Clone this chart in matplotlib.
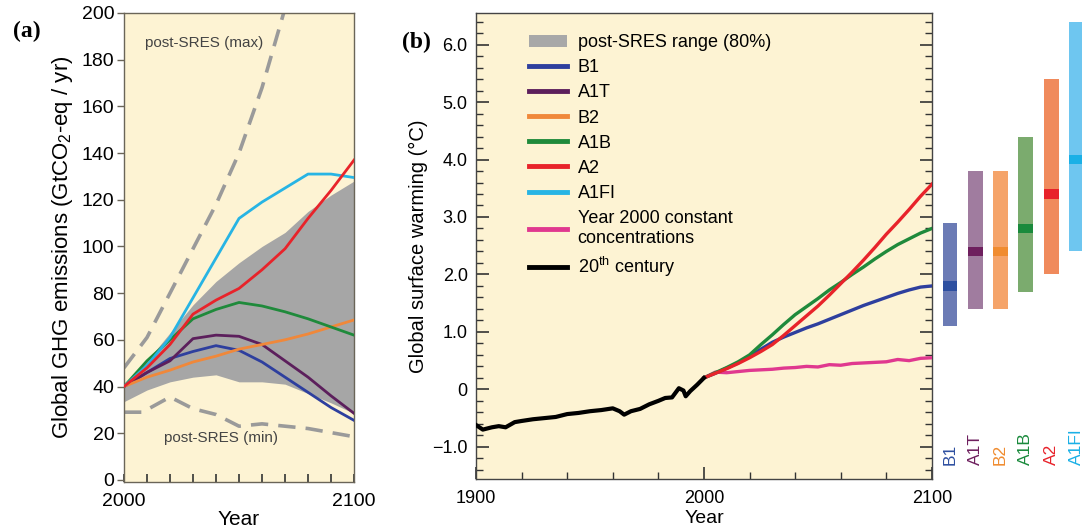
import matplotlib
matplotlib.use("Agg")
import matplotlib.pyplot as plt
from matplotlib.lines import Line2D
from matplotlib.patches import Patch
from matplotlib.ticker import MultipleLocator, FixedLocator

# -------- DATA ------------------------------------------------------
# panel (a): global GHG emissions, GtCO2-eq / yr
EMIS_YEARS = [2000, 2010, 2020, 2030, 2040, 2050, 2060, 2070, 2080, 2090, 2100]
B1_EMIS = [40, 46, 52, 55, 57.5, 55.5, 50.5, 44, 37.5, 31, 25.5]
A1T_EMIS = [40, 46, 51, 60.5, 62, 61.5, 58, 51, 44, 36, 28.5]
B2_EMIS = [40, 44, 47, 50.5, 53, 56, 58, 60, 62.5, 65.5, 68.5]
A1B_EMIS = [40, 51, 60, 69, 73, 76, 74.5, 72, 69, 65.5, 62]
A2_EMIS = [40, 48, 58, 71, 77, 82, 90, 99, 112, 124, 137]
A1FI_EMIS = [40, 49, 61, 78, 95, 112, 119, 125, 131, 131, 129.5]
RANGE_LOW = [33.5, 38.5, 42, 44, 45, 42, 42, 41, 37, 33, 28.5]
RANGE_HIGH = [41, 51, 63, 75, 85, 93, 100, 106, 115, 122, 128]
MAX_YEARS = [2000, 2010, 2020, 2030, 2040, 2050, 2060, 2070, 2075]
MAX_EMIS = [48, 61, 80, 99, 118, 140, 168, 202, 220]
MIN_YEARS = [2000, 2008, 2020, 2030, 2040, 2050, 2060, 2080, 2100]
MIN_EMIS = [29, 29, 35.5, 30.5, 28, 23, 24, 22, 18.5]

# panel (b): global surface warming, deg C
HIST_YEARS = [1900, 1903, 1907, 1910, 1913, 1917, 1920, 1925, 1930, 1935, 1940,
              1945, 1950, 1955, 1960, 1963, 1965, 1968, 1972, 1976, 1980, 1983,
              1986, 1989, 1991, 1992, 1994, 1997, 2000]
HIST_TEMP = [-0.62, -0.70, -0.66, -0.64, -0.66, -0.57, -0.55, -0.52, -0.50, -0.48, -0.43,
             -0.41, -0.38, -0.36, -0.33, -0.38, -0.44, -0.38, -0.34, -0.26, -0.20, -0.15,
             -0.14, 0.02, -0.02, -0.12, -0.03, 0.08, 0.20]
PROJ_YEARS = list(range(2000, 2101, 5))
A2_TEMP = [0.20, 0.28, 0.36, 0.45, 0.55, 0.66, 0.78, 0.94, 1.11, 1.28, 1.45,
           1.64, 1.84, 2.04, 2.25, 2.47, 2.70, 2.91, 3.13, 3.36, 3.57]
A1B_TEMP = [0.20, 0.29, 0.38, 0.48, 0.60, 0.78, 0.95, 1.13, 1.30, 1.44, 1.58,
            1.73, 1.86, 2.00, 2.13, 2.27, 2.40, 2.52, 2.62, 2.72, 2.80]
B1_TEMP = [0.20, 0.28, 0.37, 0.46, 0.57, 0.70, 0.82, 0.91, 0.99, 1.07, 1.14,
           1.22, 1.30, 1.38, 1.46, 1.53, 1.60, 1.67, 1.73, 1.78, 1.80]
COMMIT_TEMP = [0.20, 0.30, 0.29, 0.31, 0.33, 0.34, 0.35, 0.37, 0.38, 0.40, 0.39,
               0.43, 0.42, 0.45, 0.46, 0.47, 0.48, 0.52, 0.50, 0.54, 0.55]

# likely ranges and best estimates at 2090-2099
SCENARIOS = ["B1", "A1T", "B2", "A1B", "A2", "A1FI"]
RANGE_MIN = [1.1, 1.4, 1.4, 1.7, 2.0, 2.4]
RANGE_MAX = [2.9, 3.8, 3.8, 4.4, 5.4, 6.4]
BEST_EST = [1.8, 2.4, 2.4, 2.8, 3.4, 4.0]
# --------------------------------------------------------------------

LINE_COL = {"B1": "#2e3f9e", "A1T": "#5c1f5c", "B2": "#f0883a",
            "A1B": "#1f8a3b", "A2": "#e8232a", "A1FI": "#27b4e4"}
BAR_COL = ["#6b7bb5", "#a07c9f", "#f5a46a", "#7bab6e", "#f08a5c", "#6ec6f0"]
MARK_COL = ["#2e4fa0", "#6e1f5e", "#f08c30", "#1a8a3c", "#e8222a", "#1ab0e6"]
COMMIT_COL = "#e0388f"
FACE = "#fdf3d3"
SPINE = "#6a6558"

plt.rcParams["font.family"] = ["Liberation Sans", "DejaVu Sans"]
plt.rcParams["mathtext.fontset"] = "custom"
plt.rcParams["mathtext.rm"] = "Liberation Sans"
plt.rcParams["mathtext.it"] = "Liberation Sans:italic"

fig = plt.figure(figsize=(10.82, 5.30), dpi=100)

# ---- panel (a) ----
ax1 = fig.add_axes([0.1146, 0.0906, 0.2126, 0.8849])
ax1.set_facecolor(FACE)
ax1.fill_between(EMIS_YEARS, RANGE_LOW, RANGE_HIGH, color="#a6a6a6", lw=0, zorder=1)
ax1.plot(MAX_YEARS, MAX_EMIS, color="#9a9a9a", lw=2.6, dashes=(4.8, 2.8), zorder=2)
ax1.plot(MIN_YEARS, MIN_EMIS, color="#9a9a9a", lw=2.6, dashes=(4.8, 2.8), zorder=2)
for name, vals in [("B1", B1_EMIS), ("A1T", A1T_EMIS), ("B2", B2_EMIS),
                   ("A1B", A1B_EMIS), ("A1FI", A1FI_EMIS), ("A2", A2_EMIS)]:
    ax1.plot(EMIS_YEARS, vals, color=LINE_COL[name], lw=2.0, zorder=3)
ax1.text(2035, 187, "post-SRES (max)", fontsize=11, color="#444444", ha="center", va="center")
ax1.text(2042, 18, "post-SRES (min)", fontsize=11, color="#444444", ha="center", va="center")
ax1.set_xlim(2000, 2100)
ax1.set_ylim(-0.9, 200)
ax1.yaxis.set_major_locator(MultipleLocator(20))
ax1.xaxis.set_major_locator(FixedLocator([2000, 2100]))
ax1.xaxis.set_minor_locator(MultipleLocator(10))
ax1.tick_params(axis="y", direction="out", length=5, width=1, labelsize=14, color=SPINE, pad=2)
ax1.tick_params(axis="x", which="both", direction="in", length=6, width=1.2,
                labelsize=14, color="#333333", pad=8)
ax1.set_xlabel("Year", fontsize=15, labelpad=0)
ax1.set_ylabel(r"Global GHG emissions (GtCO$_2$-eq / yr)", fontsize=16, labelpad=5)
for s in ax1.spines.values():
    s.set_color(SPINE)
    s.set_linewidth(1.0)
fig.text(0.025, 0.94, "(a)", fontsize=17, fontweight="bold",
         family=["Liberation Serif", "DejaVu Serif"], va="center", ha="center")

# ---- panel (b) ----
ax2 = fig.add_axes([0.4399, 0.0962, 0.4214, 0.8793])
ax2.set_facecolor(FACE)
ax2.plot(PROJ_YEARS, COMMIT_TEMP, color=COMMIT_COL, lw=2.4, zorder=3)
ax2.plot(PROJ_YEARS, B1_TEMP, color=LINE_COL["B1"], lw=2.4, zorder=3)
ax2.plot(PROJ_YEARS, A1B_TEMP, color=LINE_COL["A1B"], lw=2.4, zorder=3)
ax2.plot(PROJ_YEARS, A2_TEMP, color=LINE_COL["A2"], lw=2.4, zorder=4)
ax2.plot(HIST_YEARS, HIST_TEMP, color="black", lw=3.0, zorder=5)
ax2.set_xlim(1900, 2100)
ax2.set_ylim(-1.56, 6.55)
ax2.xaxis.set_major_locator(FixedLocator([1900, 2000, 2100]))
ax2.xaxis.set_minor_locator(MultipleLocator(20))
ax2.yaxis.set_major_locator(FixedLocator(list(range(-1, 7))))
ax2.yaxis.set_minor_locator(MultipleLocator(0.2))
ax2.set_yticklabels(["\u22121.0", "0", "1.0", "2.0", "3.0", "4.0", "5.0", "6.0"])
ax2.tick_params(axis="both", which="major", direction="in", length=9, width=1.2,
                labelsize=13, color="#333333", right=True)
ax2.tick_params(axis="both", which="minor", direction="in", length=5, width=1.0,
                color="#333333", right=True)
ax2.tick_params(axis="x", pad=8)
ax2.tick_params(axis="y", pad=6)
ax2.set_xlabel("Year", fontsize=14, labelpad=2)
ax2.set_ylabel("Global surface warming (\u00b0C)", fontsize=14.5, labelpad=3)
for s in ax2.spines.values():
    s.set_color("#444444")
    s.set_linewidth(1.0)

handles = [Patch(facecolor="#a8a8a8", edgecolor="none")]
labels = ["post-SRES range (80%)"]
for name in ["B1", "A1T", "B2", "A1B", "A2", "A1FI"]:
    handles.append(Line2D([], [], color=LINE_COL[name], lw=3.5))
    labels.append(name)
handles.append(Line2D([], [], color=COMMIT_COL, lw=3.5))
labels.append("Year 2000 constant\nconcentrations")
handles.append(Line2D([], [], color="black", lw=3.5))
labels.append(r"20$^{\rm th}$ century")
ax2.legend(handles, labels, loc="upper left", bbox_to_anchor=(0.1, 0.97),
           frameon=False, fontsize=13, handlelength=2.1, handleheight=0.7,
           labelspacing=0.45, handletextpad=0.6, borderaxespad=0)
fig.text(0.385, 0.92, "(b)", fontsize=17, fontweight="bold",
         family=["Liberation Serif", "DejaVu Serif"], va="center", ha="center")

# ---- bars: likely ranges 2090-2099 ----
ax3 = fig.add_axes([0.8669, 0.0962, 0.1331, 0.8793])
ax3.set_xlim(-0.474, 5.217)
ax3.set_ylim(-1.56, 6.55)
ax3.axis("off")
xs = list(range(len(SCENARIOS)))
heights = [hi - lo for lo, hi in zip(RANGE_MIN, RANGE_MAX)]
ax3.bar(xs, heights, bottom=RANGE_MIN, width=0.59, color=BAR_COL, linewidth=0)
ax3.bar(xs, [0.17] * len(xs), bottom=[b - 0.085 for b in BEST_EST], width=0.59,
        color=MARK_COL, linewidth=0)
for x, name, c in zip(xs, SCENARIOS, MARK_COL):
    ax3.text(x, -1.31, name, rotation=90, ha="center", va="bottom",
             fontsize=12.5, color=c)

fig.savefig("out.png", dpi=100)
